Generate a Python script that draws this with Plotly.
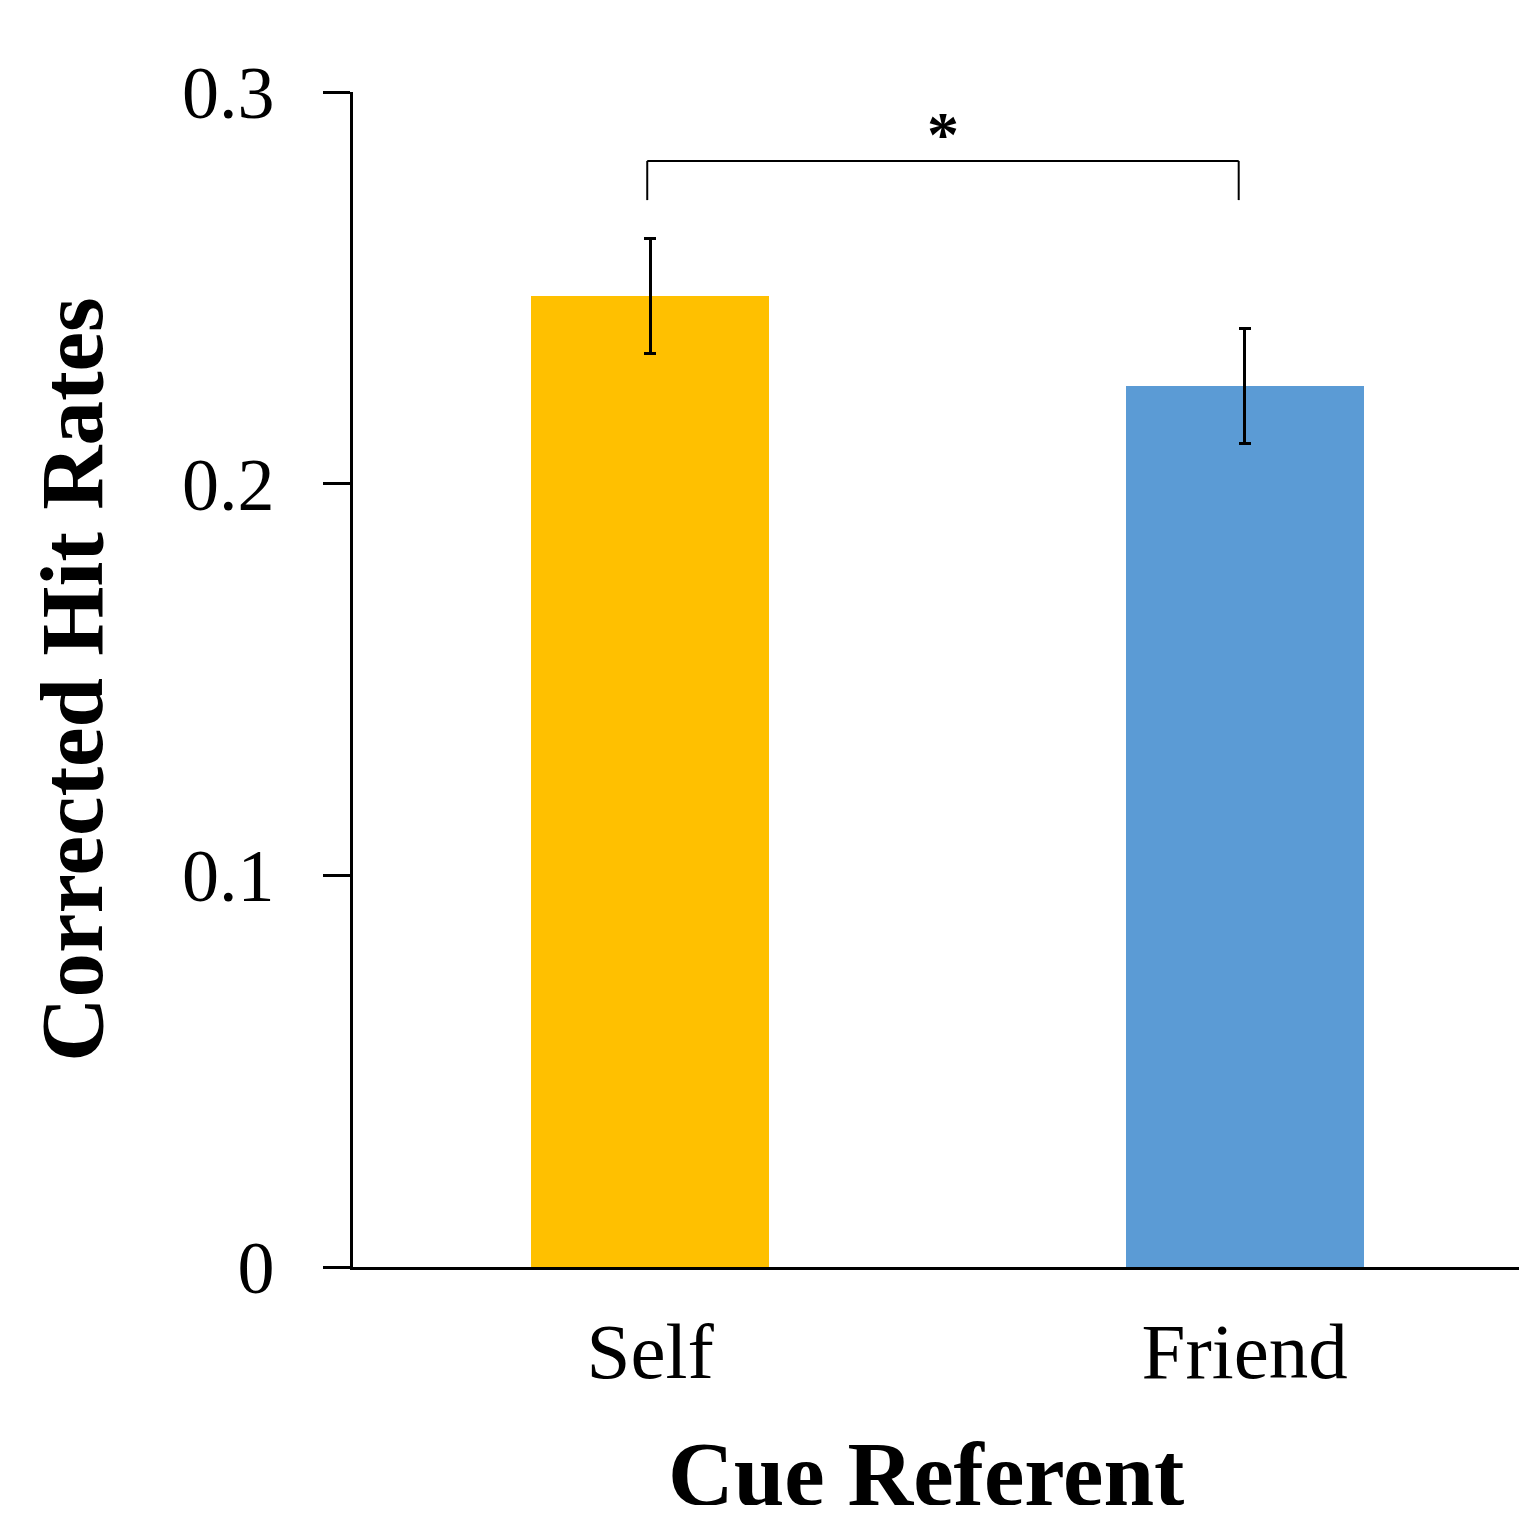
import plotly.graph_objects as go

categories = ["Self", "Friend"]
hit_rates = [0.248, 0.225]
sem = [0.0147, 0.0147]
bar_colors = ["#FFC000", "#5B9BD5"]
y_ticks = [0, 0.1, 0.2, 0.3]
y_tick_labels = ["0", "0.1", "0.2", "0.3"]
sig_label = "*"
x_title = "Cue Referent"
y_title = "Corrected Hit Rates"

FONT = "Liberation Serif"

fig = go.Figure()
fig.add_trace(go.Bar(
    x=[0, 1], y=hit_rates,
    marker=dict(color=bar_colors, line=dict(width=0)),
    width=0.4,
    error_y=dict(type="data", array=sem, visible=True, color="black", thickness=3, width=6),
    showlegend=False,
))

# significance bracket
br_top = 0.2824
br_bot = 0.2724
br_left = -0.005
br_right = 0.99
for (x0, x1, y0, y1) in [(br_left, br_left, br_bot, br_top),
                         (br_left, br_right, br_top, br_top),
                         (br_right, br_right, br_bot, br_top)]:
    fig.add_shape(type="line", xref="x", yref="y", x0=x0, x1=x1, y0=y0, y1=y1,
                  line=dict(color="black", width=2))
fig.add_annotation(x=(br_left + br_right) / 2, y=br_top, xref="x", yref="y", text=sig_label,
                   showarrow=False, yanchor="bottom", yshift=-11,
                   font=dict(family=FONT, size=64, color="black", weight="bold"))

# x-axis title
fig.add_annotation(x=0.4885, y=-0.1762, xref="paper", yref="paper", text="<b>" + x_title + "</b>",
                   showarrow=False, xanchor="center", yanchor="middle",
                   font=dict(family=FONT, size=91, color="black"))

fig.update_layout(
    width=1519, height=1497,
    margin=dict(l=345, r=0, t=84, b=238),
    plot_bgcolor="white", paper_bgcolor="white",
    bargap=0,
    xaxis=dict(
        range=[-0.5, 1.475],
        tickmode="array", tickvals=[0, 1], ticktext=categories,
        showline=True, linecolor="black", linewidth=2.5,
        ticks="", showgrid=False, zeroline=False,
        tickfont=dict(family=FONT, size=79, color="black"),
        ticklabelstandoff=13,
    ),
    yaxis=dict(
        range=[0, 0.3],
        tickmode="array", tickvals=y_ticks, ticktext=y_tick_labels,
        showline=True, linecolor="black", linewidth=2.5,
        ticks="outside", ticklen=27, tickwidth=2.5, tickcolor="black",
        showgrid=False, zeroline=False,
        tickfont=dict(family=FONT, size=74, color="black"),
        ticklabelstandoff=34,
        title=dict(text="<b>" + y_title + "</b>", font=dict(family=FONT, size=89, color="black"), standoff=50),
    ),
)

fig.write_html("out.html")
